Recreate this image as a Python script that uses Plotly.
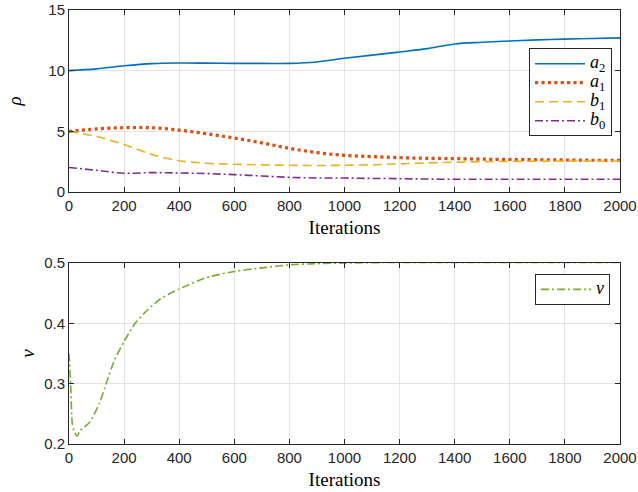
import plotly.graph_objects as go

# ---------------- data ----------------
iters_top = [0, 100, 200, 300, 400, 500, 600, 700, 800, 900, 1000,
             1100, 1200, 1300, 1400, 1500, 1600, 1700, 1800, 1900, 2000]
a2 = [10.0, 10.15, 10.4, 10.58, 10.63, 10.62, 10.6, 10.6, 10.6, 10.72, 11.02,
      11.28, 11.54, 11.82, 12.2, 12.34, 12.45, 12.54, 12.6, 12.65, 12.7]
a1 = [5.0, 5.2, 5.3, 5.3, 5.1, 4.8, 4.45, 4.05, 3.6, 3.25, 3.02,
      2.92, 2.83, 2.78, 2.75, 2.71, 2.68, 2.66, 2.64, 2.62, 2.61]
b1 = [5.0, 4.57, 3.91, 3.1, 2.58, 2.37, 2.29, 2.24, 2.2, 2.19, 2.2,
      2.25, 2.32, 2.4, 2.46, 2.5, 2.52, 2.54, 2.55, 2.56, 2.56]
b0 = [2.02, 1.79, 1.55, 1.6, 1.57, 1.52, 1.43, 1.32, 1.21, 1.16, 1.15,
      1.12, 1.1, 1.07, 1.05, 1.05, 1.05, 1.05, 1.05, 1.05, 1.05]

iters_nu = [0, 6, 12, 20, 30, 40, 75, 110, 135, 165, 200, 240, 280, 330, 400,
            500, 600, 700, 800, 900, 1000, 1200, 1400, 1600, 1800, 2000]
nu = [0.35, 0.30, 0.233, 0.219, 0.213, 0.222, 0.236, 0.267, 0.30, 0.339, 0.37,
      0.40, 0.42, 0.44, 0.457, 0.476, 0.486, 0.492, 0.497, 0.499, 0.5,
      0.501, 0.501, 0.501, 0.501, 0.501]

x_ticks = [0, 200, 400, 600, 800, 1000, 1200, 1400, 1600, 1800, 2000]
rho_ticks = [0, 5, 10, 15]
nu_ticks = [0.2, 0.3, 0.4, 0.5]

# ---------------- figure ----------------
AX = "#262626"
GRID = "#e3e3e3"
TICKFONT = dict(family="Liberation Sans, Arial, sans-serif", size=15, color=AX)
SERIF = "Liberation Serif, Times New Roman, serif"


def leg(sym, sub=""):
    s = f"<i>{sym}</i>" + (f"<sub>{sub}</sub>" if sub else "")
    return f'<span style="font-size:18px">{s}</span>'


fig = go.Figure()

fig.add_trace(go.Scatter(x=iters_top, y=a2, name=leg("a", "2"), mode="lines",
                         line=dict(color="#0072BD", width=1.6, shape="spline"),
                         xaxis="x", yaxis="y", legend="legend"))
fig.add_trace(go.Scatter(x=iters_top, y=a1, name=leg("a", "1"), mode="lines",
                         line=dict(color="#D95319", width=3.2, shape="spline", dash="3.2px,3.2px"),
                         xaxis="x", yaxis="y", legend="legend"))
fig.add_trace(go.Scatter(x=iters_top, y=b1, name=leg("b", "1"), mode="lines",
                         line=dict(color="#EDB120", width=1.6, shape="spline", dash="9px,5px"),
                         xaxis="x", yaxis="y", legend="legend"))
fig.add_trace(go.Scatter(x=iters_top, y=b0, name=leg("b", "0"), mode="lines",
                         line=dict(color="#7E2F8E", width=1.6, shape="spline", dash="8px,3px,2px,3px"),
                         xaxis="x", yaxis="y", legend="legend"))
fig.add_trace(go.Scatter(x=iters_nu, y=nu, name=leg("ν"), mode="lines",
                         line=dict(color="#77AC30", width=1.6, shape="spline", smoothing=0.6,
                                   dash="8px,3px,2px,3px"),
                         xaxis="x2", yaxis="y2", legend="legend2"))

common_x = dict(range=[0, 2000], tickvals=x_ticks, ticks="inside", ticklen=5, tickcolor=AX,
                showline=True, linecolor=AX, linewidth=1, mirror="ticks",
                showgrid=True, gridcolor=GRID, gridwidth=1, zeroline=False,
                tickfont=TICKFONT, automargin=False,
                title=dict(text="Iterations", font=dict(family=SERIF, size=19, color="#000"),
                           standoff=7))
common_y = dict(ticks="inside", ticklen=5, tickcolor=AX,
                showline=True, linecolor=AX, linewidth=1, mirror="ticks",
                showgrid=True, gridcolor=GRID, gridwidth=1, zeroline=False,
                tickfont=TICKFONT, automargin=False)

fig.update_layout(
    width=638, height=492,
    margin=dict(l=69, r=18, t=10, b=48),
    paper_bgcolor="white", plot_bgcolor="white",
    xaxis=dict(domain=[0, 1], anchor="y", **common_x),
    yaxis=dict(domain=[0.5806, 1], anchor="x", range=[0, 15], tickvals=rho_ticks,
               title=dict(text="<i>ρ</i>", font=dict(family=SERIF, size=19, color="#000"), standoff=21),
               **common_y),
    xaxis2=dict(domain=[0, 1], anchor="y2", **common_x),
    yaxis2=dict(domain=[0, 0.417], anchor="x2", range=[0.2, 0.5], tickvals=nu_ticks,
                tickformat=".1f",
                title=dict(text="<i>ν</i>", font=dict(family=SERIF, size=19, color="#000"), standoff=4),
                **common_y),
    legend=dict(x=0.9855, y=0.912, xanchor="right", yanchor="top",
                bgcolor="white", bordercolor=AX, borderwidth=1,
                font=dict(family=SERIF, size=11, color="#000"),
                itemwidth=50, tracegroupgap=0),
    legend2=dict(x=0.982, y=0.392, xanchor="right", yanchor="top",
                 bgcolor="white", bordercolor=AX, borderwidth=1,
                 font=dict(family=SERIF, size=11, color="#000"),
                 itemwidth=50),
    showlegend=True,
)

# remove the browser's default 8px body margin so the figure sits at the page origin
fig.write_html("out.html", config={"displayModeBar": False},
               post_script="document.body.style.margin='0';")
